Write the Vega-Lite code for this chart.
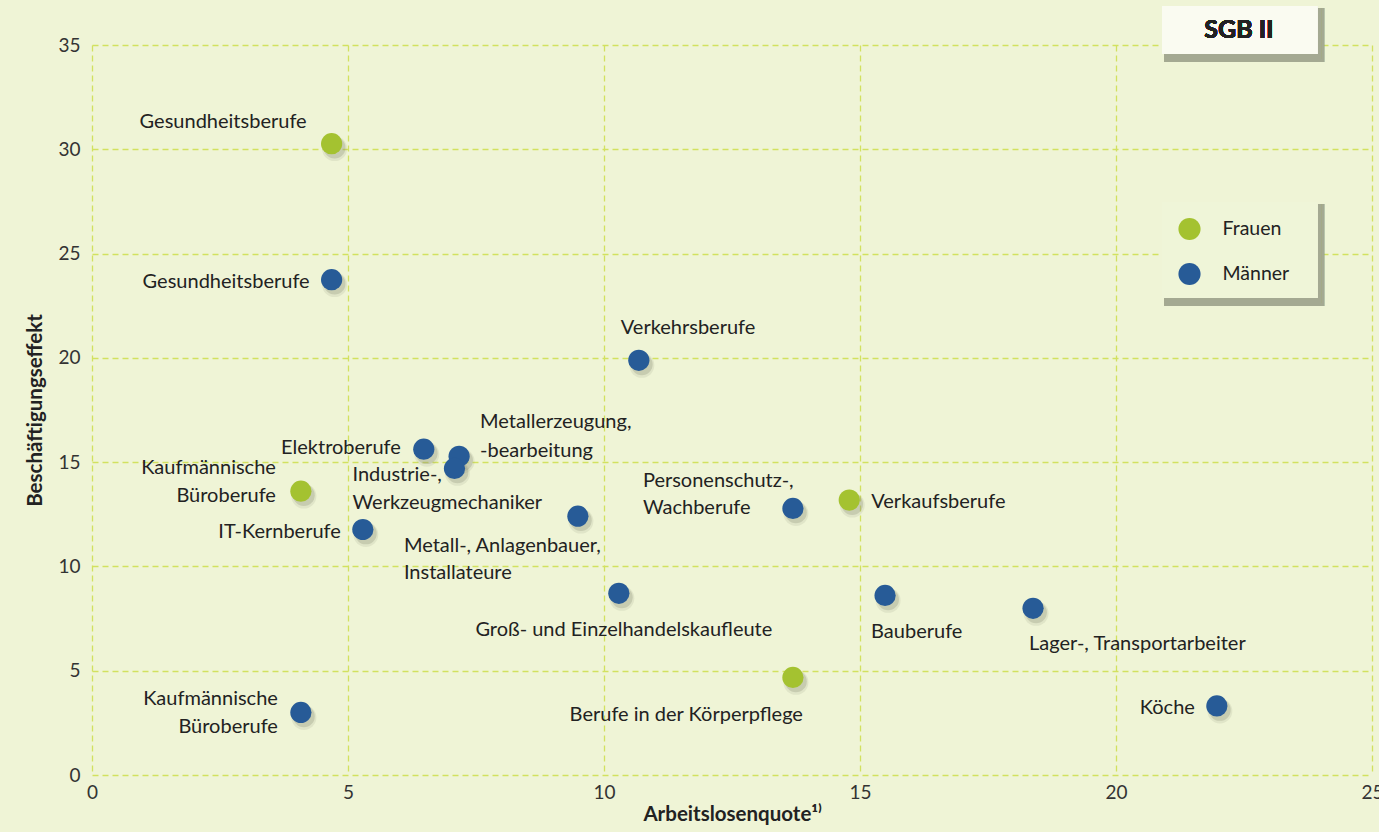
{
  "$schema": "https://vega.github.io/schema/vega-lite/v6.json",
  "width": 1280,
  "height": 730,
  "autosize": "none",
  "padding": {"left": 92, "top": 45, "right": 7, "bottom": 57},
  "background": "#eff4d6",
  "config": {
    "view": {"stroke": null},
    "font": "Lato",
    "axis": {
      "grid": true, "gridColor": "#d2e15f", "gridDash": [6, 4], "gridWidth": 1.3,
      "domain": false, "ticks": false,
      "labelFont": "Lato", "labelFontSize": 19, "labelColor": "#333333",
      "titleFont": "Lato", "titleFontSize": 20.5, "titleFontWeight": "bold", "titleColor": "#222222"
    }
  },
  "data": {
    "values": [
      {"beruf": "Gesundheitsberufe", "geschlecht": "Frauen", "quote": 4.68, "effekt": 30.27},
      {"beruf": "Kaufmännische\nBüroberufe", "geschlecht": "Frauen", "quote": 4.08, "effekt": 13.61},
      {"beruf": "Verkaufsberufe", "geschlecht": "Frauen", "quote": 14.79, "effekt": 13.18},
      {"beruf": "Berufe in der Körperpflege", "geschlecht": "Frauen", "quote": 13.69, "effekt": 4.68},
      {"beruf": "Gesundheitsberufe", "geschlecht": "Männer", "quote": 4.68, "effekt": 23.75},
      {"beruf": "Verkehrsberufe", "geschlecht": "Männer", "quote": 10.68, "effekt": 19.88},
      {"beruf": "Elektroberufe", "geschlecht": "Männer", "quote": 6.48, "effekt": 15.62},
      {"beruf": "Metallerzeugung,\n-bearbeitung", "geschlecht": "Männer", "quote": 7.17, "effekt": 15.28},
      {"beruf": "Industrie-,\nWerkzeugmechaniker", "geschlecht": "Männer", "quote": 7.08, "effekt": 14.70},
      {"beruf": "IT-Kernberufe", "geschlecht": "Männer", "quote": 5.29, "effekt": 11.77},
      {"beruf": "Metall-, Anlagenbauer,\nInstallateure", "geschlecht": "Männer", "quote": 9.49, "effekt": 12.41},
      {"beruf": "Personenschutz-,\nWachberufe", "geschlecht": "Männer", "quote": 13.69, "effekt": 12.78},
      {"beruf": "Groß- und Einzelhandelskaufleute", "geschlecht": "Männer", "quote": 10.29, "effekt": 8.71},
      {"beruf": "Bauberufe", "geschlecht": "Männer", "quote": 15.49, "effekt": 8.61},
      {"beruf": "Lager-, Transportarbeiter", "geschlecht": "Männer", "quote": 18.38, "effekt": 7.99},
      {"beruf": "Köche", "geschlecht": "Männer", "quote": 21.97, "effekt": 3.31},
      {"beruf": "Kaufmännische\nBüroberufe", "geschlecht": "Männer", "quote": 4.08, "effekt": 3.0}
    ]
  },
  "encoding": {
    "x": {"field": "quote", "type": "quantitative",
      "scale": {"domain": [0, 25], "nice": false, "zero": false},
      "axis": {"values": [0, 5, 10, 15, 20, 25], "labelPadding": 8, "titlePadding": 2, "labelFlush": false},
      "title": "Arbeitslosenquote¹⁾"},
    "y": {"field": "effekt", "type": "quantitative",
      "scale": {"domain": [0, 35], "nice": false, "zero": false},
      "axis": {"values": [0, 5, 10, 15, 20, 25, 30, 35], "labelPadding": 12, "titlePadding": 12},
      "title": "Beschäftigungseffekt"}
  },
  "layer": [
    {"mark": {"type": "rect", "color": "#a5a892", "opacity": 0.22, "xOffset": 2, "x2Offset": 7, "yOffset": 2, "y2Offset": 8},
     "encoding": {"x": {"datum": 20.9}, "x2": {"datum": 23.93}, "y": {"datum": 36.87}, "y2": {"datum": 34.57}}},
    {"mark": {"type": "rect", "color": "#a5a892", "opacity": 0.28, "xOffset": 2, "x2Offset": 4, "yOffset": 2, "y2Offset": 5},
     "encoding": {"x": {"datum": 20.9}, "x2": {"datum": 23.93}, "y": {"datum": 36.87}, "y2": {"datum": 34.57}}},
    {"mark": {"type": "rect", "color": "#fafbf1"},
     "encoding": {"x": {"datum": 20.9}, "x2": {"datum": 23.93}, "y": {"datum": 36.87}, "y2": {"datum": 34.57}}},
    {"mark": {"type": "text", "text": "SGB II", "font": "Lato", "fontSize": 25, "fontWeight": "bold", "color": "#222222", "align": "center", "baseline": "middle"},
     "encoding": {"x": {"datum": 22.4}, "y": {"datum": 35.72}}},
    {"mark": {"type": "rect", "color": "#a5a892", "opacity": 0.22, "xOffset": 2, "x2Offset": 7, "yOffset": 2, "y2Offset": 8},
     "encoding": {"x": {"datum": 20.9}, "x2": {"datum": 23.93}, "y": {"datum": 27.47}, "y2": {"datum": 22.87}}},
    {"mark": {"type": "rect", "color": "#a5a892", "opacity": 0.28, "xOffset": 2, "x2Offset": 4, "yOffset": 2, "y2Offset": 5},
     "encoding": {"x": {"datum": 20.9}, "x2": {"datum": 23.93}, "y": {"datum": 27.47}, "y2": {"datum": 22.87}}},
    {"mark": {"type": "rect", "color": "#eff5d8"},
     "encoding": {"x": {"datum": 20.9}, "x2": {"datum": 23.93}, "y": {"datum": 27.47}, "y2": {"datum": 22.87}}},
    {"mark": {"type": "point", "filled": true, "shape": "circle", "size": 620, "color": "#8f927a", "opacity": 0.15, "xOffset": 3, "yOffset": 5}},
    {"mark": {"type": "point", "filled": true, "shape": "circle", "size": 470, "color": "#8f927a", "opacity": 0.3, "xOffset": 3, "yOffset": 4}},
    {"mark": {"type": "point", "filled": true, "shape": "circle", "size": 450, "opacity": 1},
     "encoding": {"color": {"field": "geschlecht", "type": "nominal",
       "scale": {"domain": ["Frauen", "Männer"], "range": ["#a4c230", "#275b97"]},
       "legend": {"title": null, "orient": "none", "legendX": 1085.5, "legendY": 172, "padding": 0,
         "symbolSize": 490, "symbolType": "circle", "symbolOpacity": 1, "rowPadding": 21, "labelOffset": 21,
         "labelFont": "Lato", "labelFontSize": 19.5, "labelColor": "#222222"}}}},
    {"transform": [{"filter": {"and": [{"field": "geschlecht", "equal": "Männer"}, {"field": "beruf", "oneOf": ["Gesundheitsberufe", "IT-Kernberufe", "Köche"]}]}}],
     "mark": {"type": "text", "align": "right", "baseline": "alphabetic", "dx": -22, "dy": 8, "fontSize": 20, "color": "#222222"},
     "encoding": {"text": {"field": "beruf"}}},
    {"transform": [{"filter": {"field": "beruf", "equal": "Elektroberufe"}}],
     "mark": {"type": "text", "align": "right", "baseline": "alphabetic", "dx": -23, "dy": 5, "fontSize": 20, "color": "#222222"},
     "encoding": {"text": {"field": "beruf"}}},
    {"transform": [{"filter": {"and": [{"field": "geschlecht", "equal": "Frauen"}, {"field": "beruf", "equal": "Gesundheitsberufe"}]}}],
     "mark": {"type": "text", "align": "right", "baseline": "alphabetic", "dx": -25, "dy": -16, "fontSize": 20, "color": "#222222"},
     "encoding": {"text": {"field": "beruf"}}},
    {"transform": [{"filter": {"and": [{"field": "geschlecht", "equal": "Männer"}, {"field": "beruf", "equal": "Kaufmännische\nBüroberufe"}]}}],
     "mark": {"type": "text", "align": "right", "baseline": "alphabetic", "dx": -23, "dy": -7, "lineBreak": "\n", "lineHeight": 28, "fontSize": 20, "color": "#222222"},
     "encoding": {"text": {"field": "beruf"}}},
    {"transform": [{"filter": {"and": [{"field": "geschlecht", "equal": "Frauen"}, {"field": "beruf", "equal": "Kaufmännische\nBüroberufe"}]}}],
     "mark": {"type": "text", "align": "right", "baseline": "alphabetic", "dx": -25, "dy": -17, "lineBreak": "\n", "lineHeight": 28, "fontSize": 20, "color": "#222222"},
     "encoding": {"text": {"field": "beruf"}}},
    {"transform": [{"filter": {"field": "beruf", "equal": "Verkehrsberufe"}}],
     "mark": {"type": "text", "align": "left", "baseline": "alphabetic", "dx": -18, "dy": -26, "fontSize": 20, "color": "#222222"},
     "encoding": {"text": {"field": "beruf"}}},
    {"transform": [{"filter": {"field": "beruf", "equal": "Metallerzeugung,\n-bearbeitung"}}],
     "mark": {"type": "text", "align": "left", "baseline": "alphabetic", "dx": 21, "dy": -28, "lineBreak": "\n", "lineHeight": 29, "fontSize": 20, "color": "#222222"},
     "encoding": {"text": {"field": "beruf"}}},
    {"transform": [{"filter": {"field": "beruf", "equal": "Industrie-,\nWerkzeugmechaniker"}}],
     "mark": {"type": "text", "align": "left", "baseline": "alphabetic", "dx": -102, "dy": 13, "lineBreak": "\n", "lineHeight": 28, "fontSize": 20, "color": "#222222"},
     "encoding": {"text": {"field": "beruf"}}},
    {"transform": [{"filter": {"field": "beruf", "equal": "Metall-, Anlagenbauer,\nInstallateure"}}],
     "mark": {"type": "text", "align": "left", "baseline": "alphabetic", "dx": -174, "dy": 36, "lineBreak": "\n", "lineHeight": 27, "fontSize": 20, "color": "#222222"},
     "encoding": {"text": {"field": "beruf"}}},
    {"transform": [{"filter": {"field": "beruf", "equal": "Personenschutz-,\nWachberufe"}}],
     "mark": {"type": "text", "align": "left", "baseline": "alphabetic", "dx": -150, "dy": -21, "lineBreak": "\n", "lineHeight": 27, "fontSize": 20, "color": "#222222"},
     "encoding": {"text": {"field": "beruf"}}},
    {"transform": [{"filter": {"field": "beruf", "equal": "Verkaufsberufe"}}],
     "mark": {"type": "text", "align": "left", "baseline": "alphabetic", "dx": 22, "dy": 8, "fontSize": 20, "color": "#222222"},
     "encoding": {"text": {"field": "beruf"}}},
    {"transform": [{"filter": {"field": "beruf", "equal": "Groß- und Einzelhandelskaufleute"}}],
     "mark": {"type": "text", "align": "center", "baseline": "alphabetic", "dx": 5, "dy": 43, "fontSize": 20, "color": "#222222"},
     "encoding": {"text": {"field": "beruf"}}},
    {"transform": [{"filter": {"field": "beruf", "equal": "Bauberufe"}}],
     "mark": {"type": "text", "align": "left", "baseline": "alphabetic", "dx": -14, "dy": 43, "fontSize": 20, "color": "#222222"},
     "encoding": {"text": {"field": "beruf"}}},
    {"transform": [{"filter": {"field": "beruf", "equal": "Lager-, Transportarbeiter"}}],
     "mark": {"type": "text", "align": "left", "baseline": "alphabetic", "dx": -4, "dy": 42, "fontSize": 20, "color": "#222222"},
     "encoding": {"text": {"field": "beruf"}}},
    {"transform": [{"filter": {"field": "beruf", "equal": "Berufe in der Körperpflege"}}],
     "mark": {"type": "text", "align": "right", "baseline": "alphabetic", "dx": 10, "dy": 44, "fontSize": 20, "color": "#222222"},
     "encoding": {"text": {"field": "beruf"}}}
  ]
}
